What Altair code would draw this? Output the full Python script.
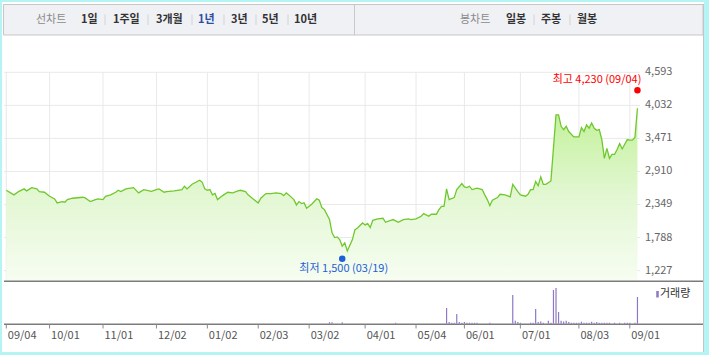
import altair as alt
import pandas as pd

# ---------------- data ----------------
price_idx = [0, 3, 5, 7, 8, 10, 12, 13, 15, 17, 19, 20, 22, 23, 24, 26, 30, 31, 33, 35, 36, 38, 39, 41, 43,
             44, 45, 47, 50, 52, 54, 57, 59, 60, 62, 63, 66, 69, 70, 71, 73, 76, 77, 78, 79, 80, 81, 82, 83,
             85, 87, 89, 91, 92, 94, 95, 97, 99, 100, 102, 104, 106, 108, 109, 110, 111, 113, 114, 115, 116,
             117, 118, 120, 122, 123, 124, 125, 127, 128, 129, 130, 131, 132, 133, 134, 136, 137, 138, 140,
             141, 142, 143, 144, 146, 148, 149, 151, 152, 154, 156, 158, 159, 161, 163, 164, 166, 167, 169,
             170, 171, 172, 173, 174, 176, 177, 179, 180, 181, 182, 183, 185, 187, 188, 189, 190, 191, 193,
             194, 196, 198, 199, 201, 202, 204, 205, 206, 207, 208, 209, 210, 211, 212, 214, 216, 217, 218,
             219, 220, 221, 223, 225, 226, 227, 228, 229, 230, 231, 232, 233, 234, 235, 236, 237, 238, 239,
             240, 241, 242, 243, 244, 245, 246, 247, 248]
price_val = [2590, 2512, 2573, 2614, 2580, 2636, 2614, 2568, 2557, 2488, 2444, 2376, 2398, 2387, 2432, 2455,
             2472, 2460, 2398, 2432, 2444, 2432, 2488, 2512, 2557, 2590, 2568, 2614, 2636, 2546, 2602, 2573,
             2602, 2614, 2557, 2568, 2580, 2602, 2659, 2614, 2692, 2760, 2726, 2614, 2590, 2602, 2512, 2535,
             2432, 2500, 2557, 2546, 2580, 2590, 2568, 2512, 2444, 2376, 2455, 2535, 2535, 2546, 2535, 2500,
             2546, 2512, 2432, 2342, 2398, 2364, 2376, 2285, 2353, 2444, 2421, 2296, 2262, 2093, 1867, 1787,
             1799, 1753, 1640, 1696, 1561, 1753, 1923, 1951, 2036, 2002, 2025, 1957, 2081, 2104, 2115, 2047,
             2081, 2093, 2047, 2093, 2104, 2093, 2104, 2149, 2194, 2149, 2183, 2183, 2262, 2318, 2318, 2614,
             2432, 2466, 2602, 2704, 2648, 2636, 2659, 2602, 2625, 2602, 2512, 2432, 2330, 2421, 2466, 2523,
             2512, 2478, 2692, 2568, 2512, 2489, 2523, 2602, 2602, 2738, 2670, 2818, 2692, 2692, 2749, 3870,
             3870, 3676, 3620, 3676, 3587, 3497, 3497, 3654, 3587, 3700, 3643, 3734, 3643, 3609, 3620, 3451,
             3133, 3303, 3133, 3201, 3201, 3281, 3383, 3292, 3371, 3451, 3440, 3440, 3485, 3982]

vol_idx = [127, 128, 132, 153, 173, 174, 175, 176, 177, 178, 179, 180, 181, 182, 183, 184, 185, 190, 199,
           200, 201, 202, 206, 207, 208, 209, 210, 211, 213, 214, 215, 216, 217, 218, 219, 220, 221, 222,
           223, 224, 225, 226, 227, 228, 229, 230, 231, 232, 233, 234, 235, 236, 237, 239, 241, 243, 244,
           245, 247, 248]
vol_val = [150, 150, 150, 100, 1570, 170, 100, 100, 970, 170, 100, 170, 100, 100, 100, 100, 100, 100, 2870,
           300, 170, 100, 100, 100, 1470, 170, 230, 100, 300, 100, 3370, 3570, 1170, 300, 230, 300, 170, 100,
           100, 100, 100, 200, 100, 100, 100, 200, 100, 170, 100, 100, 100, 100, 100, 100, 100, 100, 100,
           100, 100, 2670]

tick_idx = [0, 17, 38, 59, 79, 99, 119, 141, 161, 180, 202, 225, 245]
tick_lbl = ["09/04", "10/01", "11/01", "12/02", "01/02", "02/03", "03/02", "04/01",
            "05/04", "06/01", "07/01", "08/03", "09/01"]
price_ticks = [1227, 1788, 2349, 2910, 3471, 4032, 4593]

hi_idx, hi_val, hi_lbl = 248, 4230, "최고 4,230 (09/04)"
lo_idx, lo_val, lo_lbl = 132, 1500, "최저 1,500 (03/19)"

line_title = "선차트"
line_tabs = ["1일", "1주일", "3개월", "1년", "3년", "5년", "10년"]
candle_title = "봉차트"
candle_tabs = ["일봉", "주봉", "월봉"]
vol_legend = "거래량"

# ---------------- layout / style ----------------
FONT = "Noto Sans CJK KR"
X0, X1 = 4, 640
Y_TOP, Y_SEP = 72.3, 281.3
Y_VTOP, Y_VBASE = 282, 323.7
P_MIN, P_MAX = 1045, 4593

line_tab_x = [81, 113, 156, 198, 231, 262, 294]
line_sep_x = [105, 148, 192, 224, 256, 288]
candle_tab_x = [506, 541, 577]
candle_sep_x = [534, 570]

xscale = alt.Scale(domain=[-0.9, 249.0], range=[X0, X1], nice=False, zero=False)


def yscale():
    return alt.Scale(domain=[P_MIN, P_MAX], range=[Y_SEP, Y_TOP], nice=False, zero=False)


vscale = alt.Scale(domain=[0, 4170], range=[Y_VBASE, Y_VTOP], nice=False, zero=False)

one = alt.Data(values=[{}])


def box(x, x2, y, y2, fill, stroke=None, sw=0):
    kw = dict(fill=fill, strokeWidth=sw)
    if stroke:
        kw["stroke"] = stroke
    return alt.Chart(one).mark_rect(**kw).encode(
        x=alt.value(x), x2=alt.value(x2), y=alt.value(y), y2=alt.value(y2))


def hline(x, x2, y, color, sw=1.0):
    return alt.Chart(one).mark_rule(color=color, strokeWidth=sw).encode(
        x=alt.value(x), x2=alt.value(x2), y=alt.value(y))


def vline(x, y, y2, color, sw=1.0):
    return alt.Chart(one).mark_rule(color=color, strokeWidth=sw).encode(
        x=alt.value(x), y=alt.value(y), y2=alt.value(y2))


def label(txt, x, y, color, size=11, weight="normal", align="left"):
    return alt.Chart(one).mark_text(text=txt, align=align, baseline="middle", font=FONT,
                                    fontSize=size, fontWeight=weight, color=color).encode(
        x=alt.value(x), y=alt.value(y))


layers = []
# panel + top menu bar
layers.append(box(2, 704, 2, 352, "#ffffff"))
layers.append(vline(703.5, 4, 352, "#c4c4c4"))
layers.append(box(3.5, 703, 4.5, 35, "#f0f1f5", "#c6c6c6", 1))
layers.append(vline(354.5, 5, 35, "#c8c8c8"))
layers.append(label(line_title, 36, 19.5, "#8a8a8a"))
for t, x in zip(line_tabs, line_tab_x):
    layers.append(label(t, x, 19.5, "#2c4fa3" if t == "1년" else "#333333", weight="bold"))
for x in line_sep_x + candle_sep_x:
    layers.append(vline(x, 14.5, 25, "#d3d3d3"))
layers.append(label(candle_title, 460, 19.5, "#8a8a8a"))
for t, x in zip(candle_tabs, candle_tab_x):
    layers.append(label(t, x, 19.5, "#333333", weight="bold"))

# data frames
price_df = pd.DataFrame({"i": price_idx, "p": price_val})
vol_df = pd.DataFrame({"i": vol_idx, "v": vol_val})
tick_df = pd.DataFrame({"i": tick_idx, "lbl": tick_lbl})
pt_df = pd.DataFrame({"p": price_ticks, "lbl": [f"{v:,}" for v in price_ticks]})
hi_df = pd.DataFrame({"i": [hi_idx], "p": [hi_val], "lbl": [hi_lbl]})
lo_df = pd.DataFrame({"i": [lo_idx], "p": [lo_val], "lbl": [lo_lbl]})

X = alt.X("i:Q", scale=xscale, axis=None)

# grid
layers.append(alt.Chart(pt_df).mark_rule(color="#e9e9e9").encode(
    x=alt.value(X0), x2=alt.value(X1), y=alt.Y("p:Q", scale=yscale(), axis=None)))
layers.append(alt.Chart(tick_df).mark_rule(color="#e9e9e9").encode(
    x=X, y=alt.value(Y_TOP), y2=alt.value(Y_SEP)))

# area + line
grad = alt.Gradient(gradient="linear",
                    stops=[alt.GradientStop(color="#c2f199", offset=0),
                           alt.GradientStop(color="#e2f7d2", offset=0.5),
                           alt.GradientStop(color="#f7fdf2", offset=1)],
                    x1=1, x2=1, y1=0, y2=1)
layers.append(alt.Chart(price_df).mark_area(color=grad, interpolate="linear").encode(
    x=X, y=alt.Y("p:Q", scale=yscale(), axis=None), y2=alt.datum(P_MIN)))
layers.append(alt.Chart(price_df).mark_line(color="#6fc82d", strokeWidth=1.3).encode(
    x=X, y=alt.Y("p:Q", scale=yscale(), axis=None)))

# separators
layers.append(hline(4, 703, Y_SEP, "#7c7c7c", 1.5))
layers.append(hline(4, 703, 324.2, "#7c7c7c", 1.5))

# volume
layers.append(alt.Chart(vol_df).mark_rule(color="#8e78c6", strokeWidth=1.2).encode(
    x=X, y=alt.Y("v:Q", scale=vscale, axis=None), y2=alt.datum(0)))
layers.append(vline(657.5, 291, 297.5, "#8e78c6", 2.5))
layers.append(label(vol_legend, 660, 294, "#333333"))

# axes
layers.append(alt.Chart(pt_df).mark_text(align="left", baseline="middle", font=FONT,
                                         fontSize=11, color="#666666").encode(
    x=alt.value(645), y=alt.Y("p:Q", scale=yscale(), axis=None), text="lbl:N"))
layers.append(alt.Chart(tick_df).mark_rule(color="#8a8a8a").encode(
    x=X, y=alt.value(324.5), y2=alt.value(328.5)))
layers.append(alt.Chart(tick_df).mark_text(align="left", baseline="middle", dx=1.5, font=FONT,
                                           fontSize=11, color="#555555").encode(
    x=X, y=alt.value(336), text="lbl:N"))

# high / low markers
layers.append(alt.Chart(hi_df).mark_circle(size=42, color="#ff0000", opacity=1, yOffset=-3.4).encode(
    x=X, y=alt.Y("p:Q", scale=yscale(), axis=None)))
layers.append(alt.Chart(hi_df).mark_text(align="right", baseline="middle", dx=4, dy=-13.7, font=FONT,
                                         fontSize=11, color="#ff0000").encode(
    x=X, y=alt.Y("p:Q", scale=yscale(), axis=None), text="lbl:N"))
layers.append(alt.Chart(lo_df).mark_circle(size=42, color="#1f60d6", opacity=1, yOffset=4.2).encode(
    x=X, y=alt.Y("p:Q", scale=yscale(), axis=None)))
layers.append(alt.Chart(lo_df).mark_text(align="center", baseline="middle", dx=1.5, dy=14.8, font=FONT,
                                         fontSize=11, color="#1f60d6").encode(
    x=X, y=alt.Y("p:Q", scale=yscale(), axis=None), text="lbl:N"))

chart = alt.layer(*layers).resolve_scale(y="independent").properties(
    width=709, height=355, padding=0,
    autosize=alt.AutoSizeParams(type="none"),
    background="#b4f4f4",
).configure_view(strokeWidth=0)

chart.save("out.html", embed_options={"renderer": "svg", "actions": False})
